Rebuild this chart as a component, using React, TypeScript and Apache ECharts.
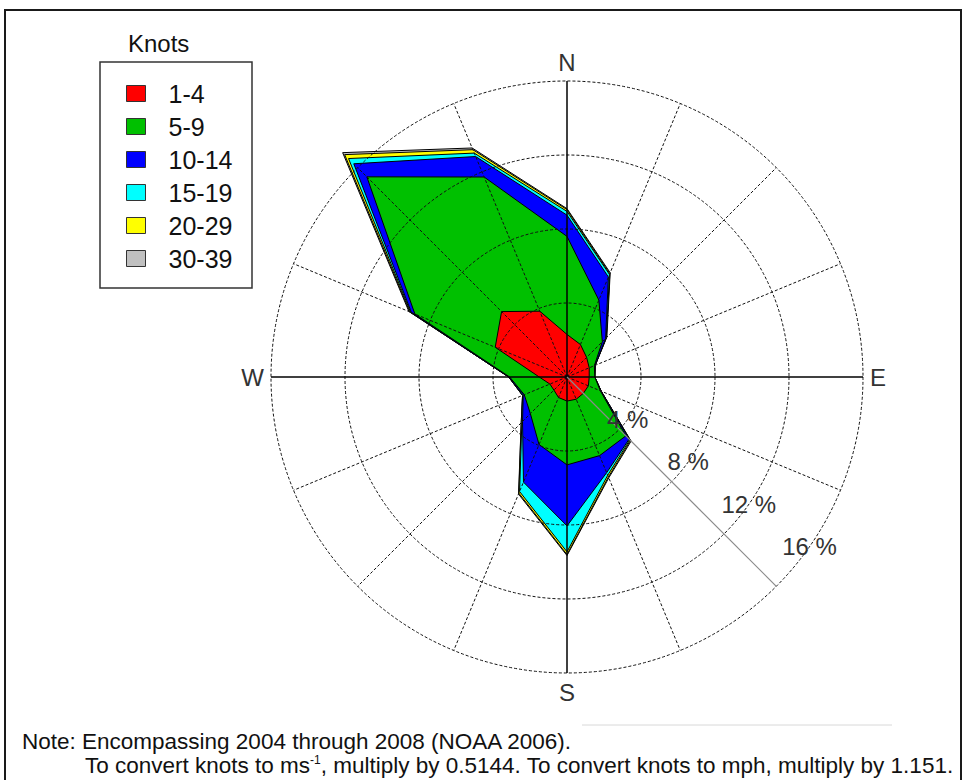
import React, { useEffect, useRef } from 'react';
import * as echarts from 'echarts';

// Wind directions (bearing in degrees, clockwise from north)
const directions = ['N', 'NNE', 'NE', 'ENE', 'E', 'ESE', 'SE', 'SSE', 'S', 'SSW', 'SW', 'WSW', 'W', 'WNW', 'NW', 'NNW'];
const directionAngles = [0, 22.5, 45, 67.5, 90, 112.5, 135, 157.5, 180, 202.5, 225, 247.5, 270, 292.5, 315, 337.5];

// Speed classes (knots) and colours
const speedClasses = ['1-4', '5-9', '10-14', '15-19', '20-29', '30-39'];
const classColors = ['#ff0000', '#00c000', '#0000ff', '#00ffff', '#ffff00', '#c0c0c0'];

// Frequency (%) of each speed class, per direction (order of `directions`)
const freq1to4 = [2.3, 1.9, 1.5, 1.3, 1.2, 1.25, 1.25, 1.3, 1.3, 1.2, 1.0, 1.0, 1.5, 4.2, 5.0, 3.85];
const freq5to9 = [5.3, 2.6, 1.2, 0.3, 0.3, 0.7, 3.25, 3.3, 3.45, 2.75, 1.8, 1.5, 1.6, 4.7, 10.3, 7.85];
const freq10to14 = [1.15, 1.35, 0.25, 0.05, 0, 0.05, 0.25, 1.0, 3.3, 2.2, 0.6, 0.06, 0.05, 0.2, 1.0, 1.2];
const freq15to19 = [0.2, 0.15, 0.05, 0, 0, 0, 0.05, 0.15, 1.4, 0.55, 0.05, 0.04, 0, 0.05, 0.4, 0.2];
const freq20to29 = [0.1, 0.05, 0, 0, 0, 0, 0.05, 0.1, 0.15, 0.1, 0.05, 0, 0, 0.05, 0.3, 0.2];
const freq30to39 = [0.05, 0.05, 0.05, 0, 0, 0, 0.05, 0.05, 0.05, 0.05, 0, 0, 0, 0.05, 0.15, 0.1];

// Radial rings and their labels
const ringValues = [4, 8, 12, 16];
const ringLabels = ['4 %', '8 %', '12 %', '16 %'];

// Compass labels
const compassTicks = [0, 90, 180, 270];
const compassLabels = ['N', 'E', 'S', 'W'];

const legendTitle = 'Knots';
const noteLine1 = 'Note: Encompassing 2004 through 2008 (NOAA 2006).';
const noteLine2a = 'To convert knots to ms';
const noteLine2sup = '-1';
const noteLine2b = ', multiply by 0.5144. To convert knots to mph, multiply by 1.151.';

const FONT = '"Liberation Sans", Arial, sans-serif';
const DASH = [3, 2];

export default function App() {
  const ref = useRef<HTMLDivElement>(null);

  useEffect(() => {
    const chart = echarts.init(ref.current!, null, { renderer: 'svg' });

    const classData = [freq1to4, freq5to9, freq10to14, freq15to19, freq20to29, freq30to39];
    const cumulative: number[][] = [];
    classData.forEach((arr, k) => {
      cumulative.push(arr.map((v, i) => v + (k > 0 ? cumulative[k - 1][i] : 0)));
    });

    const roseSeries: any[] = speedClasses
      .map((name, k) => ({
        type: 'custom',
        name,
        coordinateSystem: 'polar',
        clip: false,
        silent: true,
        z: 2,
        itemStyle: { color: classColors[k], borderColor: '#000', borderWidth: 1 },
        data: cumulative[k].map((r, i) => [r, directionAngles[i]]),
        renderItem: (params: any, api: any) => {
          if (params.dataIndex !== 0) return null;
          const pts = cumulative[k].map((r, i) => api.coord([r, directionAngles[i]]));
          return {
            type: 'polygon',
            shape: { points: pts },
            style: { fill: classColors[k], stroke: '#000', lineWidth: 1 },
          };
        },
      }))
      .reverse();

    const maxRing = ringValues[ringValues.length - 1];

    const lineItem = (api: any, r: number, a: number, style: any) => {
      const p0 = api.coord([0, a]);
      const p1 = api.coord([r, a]);
      return {
        type: 'line',
        shape: { x1: p0[0], y1: p0[1], x2: p1[0], y2: p1[1] },
        style,
      };
    };

    const overlaySeries: any[] = [
      {
        // dashed rings drawn over the rose
        type: 'custom',
        name: 'rings',
        coordinateSystem: 'polar',
        clip: false,
        silent: true,
        z: 8,
        data: ringValues.map((v) => [v, 0]),
        renderItem: (params: any, api: any) => {
          const c = api.coord([0, 0]);
          const p = api.coord([api.value(0), 0]);
          const r = Math.hypot(p[0] - c[0], p[1] - c[1]);
          return {
            type: 'circle',
            shape: { cx: c[0], cy: c[1], r },
            style: { fill: 'none', stroke: '#111', lineWidth: 1, lineDash: DASH },
          };
        },
      },
      {
        // dashed spokes drawn over the rose
        type: 'custom',
        name: 'spokes',
        coordinateSystem: 'polar',
        clip: false,
        silent: true,
        z: 8,
        data: directionAngles.filter((a) => a !== 135 && compassTicks.indexOf(a) < 0).map((a) => [maxRing, a]),
        renderItem: (params: any, api: any) =>
          lineItem(api, api.value(0), api.value(1), { stroke: '#111', lineWidth: 1, lineDash: DASH }),
      },
      {
        type: 'custom',
        name: 'compass-lines',
        coordinateSystem: 'polar',
        clip: false,
        silent: true,
        z: 10,
        data: compassTicks.map((a) => [maxRing, a]),
        renderItem: (params: any, api: any) =>
          lineItem(api, api.value(0), api.value(1), { stroke: '#000', lineWidth: 1.5 }),
      },
      {
        type: 'custom',
        name: 'se-line',
        coordinateSystem: 'polar',
        clip: false,
        silent: true,
        z: 10,
        data: [[maxRing, 135]],
        renderItem: (params: any, api: any) =>
          lineItem(api, api.value(0), api.value(1), { stroke: '#8a8a8a', lineWidth: 1.2 }),
      },
      {
        type: 'custom',
        name: 'ring-labels',
        coordinateSystem: 'polar',
        clip: false,
        silent: true,
        z: 11,
        data: ringValues.map((v) => [v, 125]),
        renderItem: (params: any, api: any) => {
          const p = api.coord([api.value(0), api.value(1)]);
          return {
            type: 'text',
            x: p[0],
            y: p[1],
            style: {
              text: ringLabels[params.dataIndex],
              fill: '#333',
              fontSize: 24,
              fontFamily: FONT,
              align: 'center',
              verticalAlign: 'middle',
              textAlign: 'center',
              textVerticalAlign: 'middle',
            },
          };
        },
      },
    ];

    const option: any = {
      animation: false,
      backgroundColor: '#fff',
      polar: { center: [567, 377], radius: 296 },
      angleAxis: {
        type: 'value',
        min: 0,
        max: 360,
        interval: 22.5,
        startAngle: 90,
        clockwise: true,
        axisLine: { show: false },
        axisTick: { show: false },
        axisLabel: {
          margin: 7,
          color: '#333',
          fontSize: 24,
          fontFamily: FONT,
          formatter: (v: number) => {
            const idx = compassTicks.indexOf(v);
            return idx >= 0 ? compassLabels[idx] : '';
          },
        },
        splitLine: { show: false },
      },
      radiusAxis: {
        type: 'value',
        min: 0,
        max: maxRing,
        interval: 4,
        axisLine: { show: false },
        axisTick: { show: false },
        axisLabel: { show: false },
        splitLine: { show: false },
      },
      legend: {
        data: speedClasses,
        orient: 'vertical',
        left: 126,
        top: 81,
        padding: 0,
        itemWidth: 19,
        itemHeight: 16,
        itemGap: 8,
        icon: 'rect',
        selectedMode: false,
        itemStyle: { borderColor: '#333', borderWidth: 1 },
        textStyle: { fontSize: 25, color: '#111', fontFamily: FONT, padding: [0, 0, 0, 18] },
      },
      graphic: [
        {
          type: 'rect',
          shape: { x: 5, y: 10, width: 956, height: 800 },
          style: { fill: 'none', stroke: '#1a1a1a', lineWidth: 2 },
          silent: true,
        },
        {
          type: 'rect',
          shape: { x: 100, y: 62, width: 152, height: 226 },
          style: { fill: 'none', stroke: '#333', lineWidth: 1.5 },
          silent: true,
        },
        {
          type: 'text',
          x: 128,
          y: 43.5,
          style: {
            text: legendTitle,
            fill: '#111',
            fontSize: 24,
            fontFamily: FONT,
            align: 'left',
            verticalAlign: 'middle',
          },
        },
        {
          type: 'line',
          shape: { x1: 582, y1: 725, x2: 892, y2: 725 },
          style: { stroke: '#d8d8d8', lineWidth: 1 },
          silent: true,
        },
        {
          type: 'text',
          x: 22,
          y: 741,
          style: {
            text: noteLine1,
            fill: '#111',
            fontSize: 22.5,
            fontFamily: FONT,
            align: 'left',
            verticalAlign: 'middle',
          },
        },
        {
          type: 'text',
          x: 85,
          y: 765,
          style: {
            text: noteLine2a + '{sup|' + noteLine2sup + '}' + noteLine2b,
            fill: '#111',
            fontSize: 22.5,
            fontFamily: FONT,
            align: 'left',
            verticalAlign: 'middle',
            rich: {
              sup: { fontSize: 12, fontFamily: FONT, fill: '#111', verticalAlign: 'top' },
            },
          },
        },
      ],
      series: [...roseSeries, ...overlaySeries],
    };

    chart.setOption(option);
    return () => chart.dispose();
  }, []);

  return (
    <div
      ref={ref}
      style={{ position: 'fixed', left: 0, top: 0, width: 964, height: 780, background: '#fff' }}
    />
  );
}
